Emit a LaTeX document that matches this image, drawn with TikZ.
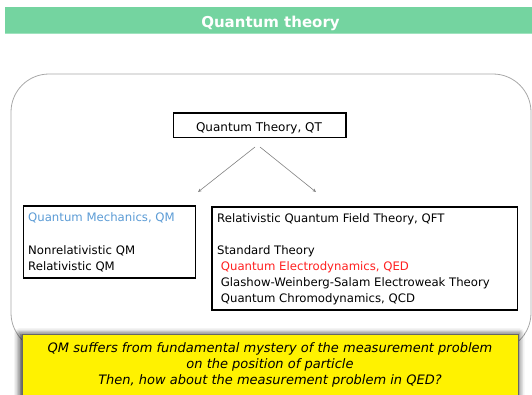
\documentclass[tikz,border=0pt]{standalone}
\usepackage{fontspec}
\setmainfont{DejaVu Sans}
\usetikzlibrary{arrows.meta,shadows.blur}
\definecolor{bargreen}{HTML}{74D4A0}
\definecolor{barline}{HTML}{9FE3BE}
\definecolor{qmblue}{HTML}{5B9BD5}
\definecolor{qedred}{HTML}{FF2020}
\definecolor{framegray}{HTML}{A8A8A8}
\definecolor{arrowgray}{HTML}{808080}
\tikzset{
  box/.style={draw=black, line width=1.4pt, inner sep=0pt},
  txt/.style={inner sep=0pt, font=\fontsize{11.7}{13}\selectfont, anchor=base west},
  itxt/.style={inner sep=0pt, font=\fontsize{13}{15}\selectfont\itshape, anchor=base},
  conn/.style={draw=arrowgray, line width=0.6pt, -{Stealth[length=3.5pt,width=3pt]}},
}
\begin{document}
\begin{tikzpicture}[x=1pt,y=-1pt]
\useasboundingbox (0,0) rectangle (532,394);
\clip (0,0) rectangle (532,394);
% title bar
\fill[bargreen] (5,7) rectangle (540,34);
\draw[barline, line width=1pt] (5,33.5) -- (540,33.5);
\node[inner sep=0pt, anchor=base, text=white, font=\fontsize{15}{17}\selectfont\bfseries] (title) at (270.5,27) {Quantum theory};
% outer rounded frame
\draw[framegray, line width=0.8pt, rounded corners=38pt] (11,74) rectangle (531,351);
% boxes
\node[box, minimum width=172.5pt, minimum height=24.5pt, anchor=north west] (qt) at (172.8,112.3) {};
\node[inner sep=0pt, anchor=base, font=\fontsize{12}{14}\selectfont] (qtt) at (259,131) {Quantum Theory, QT};
\node[box, minimum width=172.5pt, minimum height=72pt, anchor=north west] (qm) at (22.5,205.2) {};
\node[box, minimum width=305.5pt, minimum height=103pt, anchor=north west] (qft) at (211.2,206.2) {};
% arrows
\coordinate (a1s) at (255,147);
\coordinate (a1e) at (198,192);
\coordinate (a2s) at (260,147);
\coordinate (a2e) at (316,192);
\draw[conn] (a1s) -- (a1e);
\draw[conn] (a2s) -- (a2e);
% QM texts
\node[txt, text=qmblue] (qm1) at (28,221.5) {Quantum Mechanics, QM};
\node[txt] (qm2) at (28,254.3) {Nonrelativistic QM};
\node[txt] (qm3) at (28,270) {Relativistic QM};
% QFT texts
\node[txt] (qf1) at (217,222.3) {Relativistic Quantum Field Theory, QFT};
\node[txt] (qf2) at (217,254.3) {Standard Theory};
\node[txt, text=qedred] (qf3) at (220.7,270.3) {Quantum Electrodynamics, QED};
\node[txt] (qf4) at (220.7,286) {Glashow-Weinberg-Salam Electroweak Theory};
\node[txt] (qf5) at (220.7,302.3) {Quantum Chromodynamics, QCD};
% yellow box
\node[fill=yellow, draw=black!60, line width=0.5pt, inner sep=0pt, minimum width=495.5pt, minimum height=70pt, anchor=north west,
  blur shadow={shadow xshift=-1pt, shadow yshift=1pt, shadow blur radius=5pt, shadow opacity=70, shadow scale=1.01}] (yb) at (22.3,334.3) {};
\node[itxt] (y1) at (270,352) {QM suffers from fundamental mystery of the measurement problem};
\node[itxt] (y2) at (270,368.7) {on the position of particle};
\node[itxt] (y3) at (270,384.7) {Then, how about the measurement problem in QED?};
\end{tikzpicture}
\end{document}
